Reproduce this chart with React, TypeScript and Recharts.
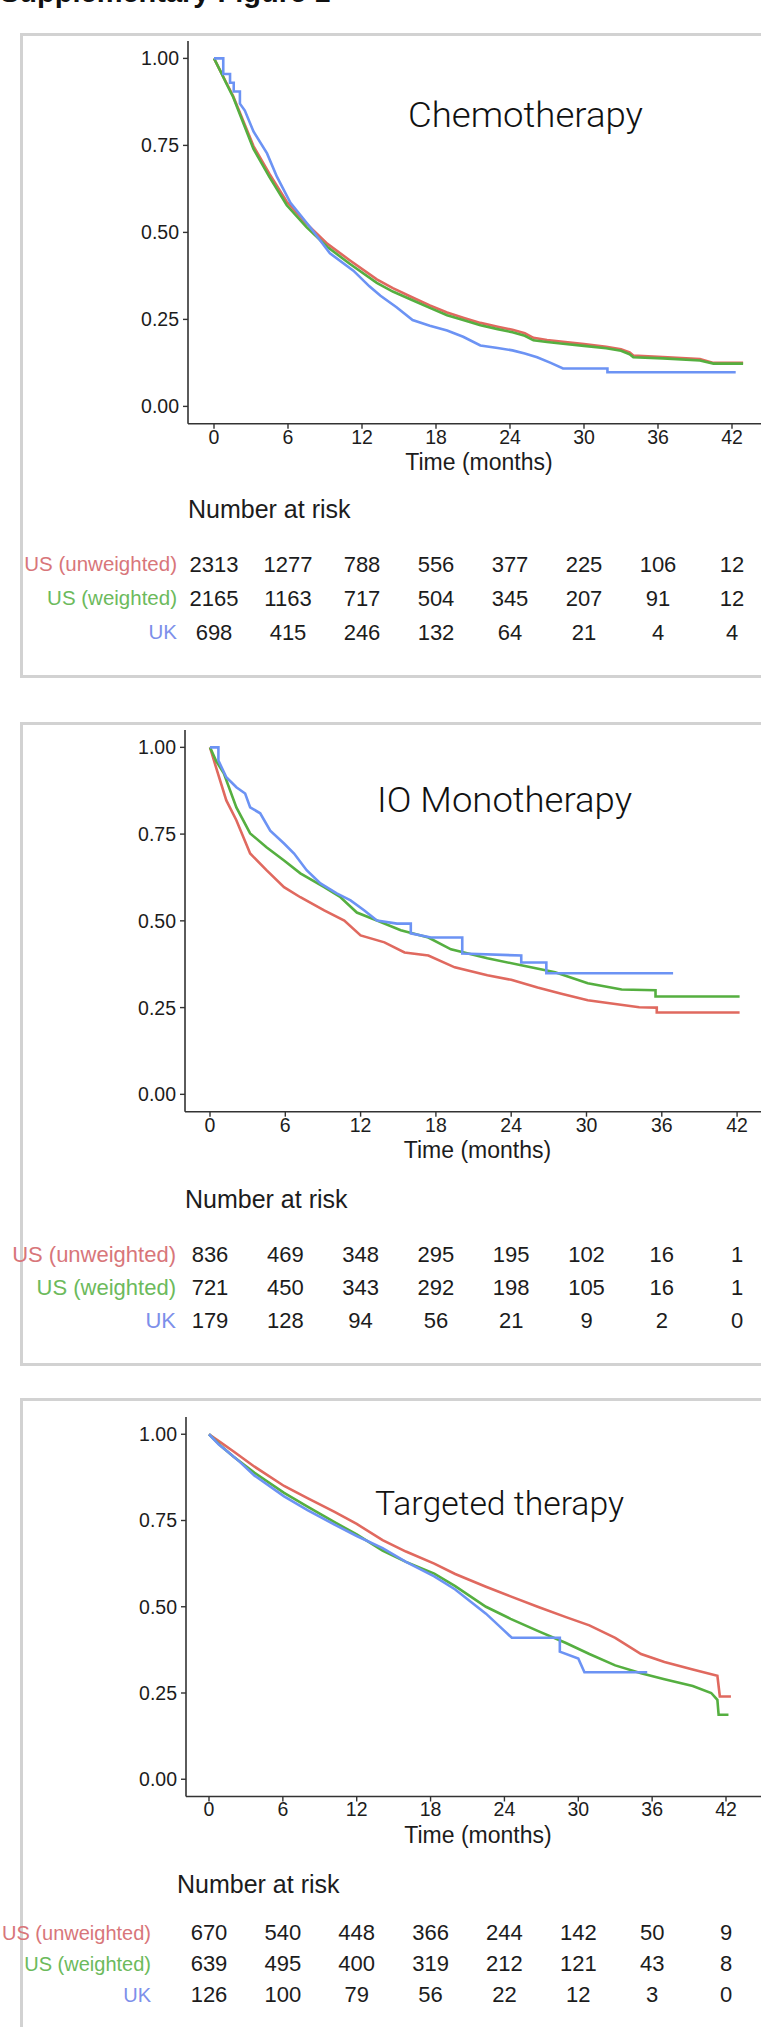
import React from "react";
import { LineChart, Line, XAxis, YAxis, ScatterChart, Scatter } from "recharts";

// Kaplan-Meier curves: [months, survival]
const chemoUsUnweighted = [
  [0, 1], [0.5, 0.965], [1, 0.93], [1.55, 0.892], [2.2, 0.835], [3.2, 0.748], [4.5, 0.668], [5.9, 0.588],
  [7.5, 0.525], [9.2, 0.467], [11, 0.42], [13.2, 0.365], [14.5, 0.34], [16.1, 0.313], [17.5, 0.29],
  [18.9, 0.27], [20.2, 0.255], [21.6, 0.24], [23, 0.229], [24.2, 0.22], [25.2, 0.21], [25.9, 0.197],
  [27, 0.191], [28.3, 0.186], [30, 0.179], [31.8, 0.171], [33, 0.164], [33.7, 0.155], [34, 0.146],
  [36.4, 0.142], [39.4, 0.136], [40.5, 0.125], [42.9, 0.125],
];
const chemoUsWeighted = [
  [0, 1], [0.5, 0.965], [1, 0.928], [1.55, 0.889], [2.2, 0.83], [3.2, 0.74], [4.5, 0.659], [5.9, 0.578],
  [7.5, 0.515], [9.2, 0.458], [11, 0.41], [13.2, 0.355], [14.5, 0.33], [16.1, 0.305], [17.5, 0.283],
  [18.9, 0.262], [20.2, 0.248], [21.6, 0.233], [23, 0.222], [24.2, 0.213], [25.2, 0.203], [25.9, 0.19],
  [27, 0.185], [28.3, 0.18], [30, 0.174], [31.8, 0.167], [33, 0.16], [33.7, 0.15], [34, 0.141],
  [36.4, 0.138], [39.4, 0.132], [40.5, 0.123], [42.9, 0.123],
];
const chemoUk = [
  [0, 1], [0.75, 1], [0.75, 0.955], [1.3, 0.955], [1.3, 0.93], [1.6, 0.93], [1.6, 0.905], [2.1, 0.905],
  [2.1, 0.87], [2.5, 0.85], [3.2, 0.79], [4.3, 0.727], [5.1, 0.66], [6.2, 0.585], [7.8, 0.515],
  [9.4, 0.44], [11.3, 0.39], [12.6, 0.345], [13.5, 0.318], [14.8, 0.285], [16.1, 0.248], [17.5, 0.232],
  [18.9, 0.218], [20.2, 0.2], [21.6, 0.175], [23, 0.168], [24.2, 0.161], [25.2, 0.152], [26.2, 0.141],
  [27.3, 0.125], [28.3, 0.109], [31.9, 0.109], [31.9, 0.098], [42.3, 0.098],
];

const ioUsUnweighted = [
  [0, 1], [0.5, 0.94], [1.3, 0.847], [2.1, 0.79], [3.2, 0.694], [4.5, 0.646], [5.9, 0.597], [7.2, 0.568],
  [9.1, 0.53], [10.7, 0.501], [12, 0.458], [13.9, 0.438], [15.5, 0.409], [17.4, 0.4], [19.5, 0.366],
  [22.1, 0.343], [24, 0.33], [26.1, 0.308], [28, 0.29], [30.1, 0.271], [32, 0.262], [34.2, 0.251],
  [35.6, 0.25], [35.6, 0.236], [42.2, 0.236],
];
const ioUsWeighted = [
  [0, 1], [0.5, 0.96], [1.1, 0.925], [2.1, 0.827], [3.2, 0.752], [4.5, 0.712], [5.9, 0.674], [7.2, 0.637],
  [9.1, 0.597], [10.4, 0.568], [11.7, 0.524], [13.3, 0.501], [15.2, 0.473], [17.4, 0.452], [19.2, 0.418],
  [22.1, 0.392], [24.8, 0.372], [27.5, 0.352], [30.1, 0.32], [32.8, 0.302], [35.5, 0.3], [35.5, 0.282],
  [42.2, 0.282],
];
const ioUk = [
  [0, 1], [0.67, 1], [0.67, 0.962], [1.3, 0.914], [2.1, 0.885], [2.8, 0.867], [3.2, 0.827], [4, 0.81],
  [4.8, 0.76], [5.9, 0.723], [6.7, 0.694], [7.7, 0.646], [8.8, 0.608], [10.1, 0.579], [11.2, 0.559],
  [12.3, 0.53], [13.3, 0.501], [14.9, 0.492], [16, 0.492], [16, 0.464], [17.6, 0.452], [20.1, 0.452],
  [20.1, 0.406], [24.8, 0.4], [24.8, 0.38], [26.8, 0.38], [26.8, 0.349], [36.9, 0.349],
];

const targetedUsUnweighted = [
  [0, 1], [1, 0.975], [2, 0.95], [3.7, 0.906], [6.1, 0.85], [8, 0.815], [10.2, 0.775], [12, 0.74],
  [14.1, 0.693], [16, 0.66], [18.3, 0.625], [20, 0.595], [22.5, 0.558], [24.5, 0.53], [26.7, 0.5],
  [29, 0.47], [30.9, 0.446], [33, 0.41], [35.1, 0.363], [37, 0.34], [39.3, 0.318], [41.3, 0.3],
  [41.5, 0.24], [42.4, 0.24],
];
const targetedUsWeighted = [
  [0, 1], [1, 0.965], [2, 0.935], [3.7, 0.888], [6.1, 0.83], [8, 0.79], [10.2, 0.745], [12, 0.71],
  [14.1, 0.663], [16, 0.63], [18.3, 0.596], [20, 0.56], [22.5, 0.5], [24.5, 0.465], [26.7, 0.43],
  [29, 0.395], [30.9, 0.363], [33, 0.33], [35.1, 0.307], [37, 0.29], [39.3, 0.27], [40.8, 0.25],
  [41.3, 0.23], [41.4, 0.187], [42.2, 0.187],
];
const targetedUk = [
  [0, 1], [0.8, 0.97], [1.5, 0.95], [2.5, 0.92], [3.7, 0.88], [6.1, 0.82], [8, 0.78], [10.2, 0.738],
  [12, 0.705], [14.1, 0.67], [16, 0.63], [18.3, 0.588], [20, 0.55], [22.5, 0.48], [24, 0.43],
  [24.6, 0.41], [28.5, 0.41], [28.5, 0.37], [30, 0.35], [30.5, 0.31], [35.6, 0.31],
];

// number at risk tables
const riskTimes = [0, 6, 12, 18, 24, 30, 36, 42];
const groupNames = ["US (unweighted)", "US (weighted)", "UK"];
const chemoRisk = [
  [2313, 1277, 788, 556, 377, 225, 106, 12],
  [2165, 1163, 717, 504, 345, 207, 91, 12],
  [698, 415, 246, 132, 64, 21, 4, 4],
];
const ioRisk = [
  [836, 469, 348, 295, 195, 102, 16, 1],
  [721, 450, 343, 292, 198, 105, 16, 1],
  [179, 128, 94, 56, 21, 9, 2, 0],
];
const targetedRisk = [
  [670, 540, 448, 366, 244, 142, 50, 9],
  [639, 495, 400, 319, 212, 121, 43, 8],
  [126, 100, 79, 56, 22, 12, 3, 0],
];

const yTicks = [0, 0.25, 0.5, 0.75, 1];
const lineColors = ["#E0695F", "#55AF40", "#6C93F4"];
const labelColors = ["#D8767A", "#6CBA5C", "#7D8FEA"];

const PAGE_W = 770;
const INK = "#1c1c1c";

// page geometry of each panel (pixels)
const layouts = [
  {
    boxTop: 33, boxBottom: 678, y1: 58, y0: 406, axisX: 188, x0: 214, ppm: 74 / 6,
    titleX: 408, titleBase: 127, titleW: 235, titleSize: 35,
    timeBase: 470, narBase: 518, narX: 188, rows: [564, 598, 632], labelRight: 177, labelSize: 20.5,
  },
  {
    boxTop: 722, boxBottom: 1366, y1: 747, y0: 1094, axisX: 185, x0: 210, ppm: 75.3 / 6,
    titleX: 377, titleBase: 812, titleW: 255, titleSize: 35,
    timeBase: 1158, narBase: 1208, narX: 185, rows: [1254, 1288, 1320], labelRight: 176, labelSize: 22,
  },
  {
    boxTop: 1398, boxBottom: 2100, y1: 1434, y0: 1779, axisX: 186, x0: 209, ppm: 517 / 42,
    titleX: 375, titleBase: 1515, titleW: 249, titleSize: 34,
    timeBase: 1843, narBase: 1893, narX: 177, rows: [1932, 1963, 1994], labelRight: 151, labelSize: 20,
  },
];

const panels = [
  { title: "Chemotherapy", curves: [chemoUsUnweighted, chemoUsWeighted, chemoUk], risk: chemoRisk },
  { title: "IO Monotherapy", curves: [ioUsUnweighted, ioUsWeighted, ioUk], risk: ioRisk },
  { title: "Targeted therapy", curves: [targetedUsUnweighted, targetedUsWeighted, targetedUk], risk: targetedRisk },
];

const toPoints = (arr: number[][]) => arr.map(([t, s]) => ({ t, s }));

function Panel({ idx }: { idx: number }) {
  const L = layouts[idx];
  const { curves, risk } = panels[idx];
  const span = L.y0 - L.y1;
  const plotTop = L.y1 - 0.05 * span;
  const plotH = 1.1 * span;
  const xMin = (L.axisX - L.x0) / L.ppm;
  const xMax = xMin + (PAGE_W - L.axisX) / L.ppm;
  const yAxisW = 70;
  const padTop = 12;

  const rowGap = (L.rows[2] - L.rows[0]) / 2;
  const tableTop = L.rows[0] - rowGap / 2;
  const labelAxisW = 184;
  const cells = risk.flatMap((row, r) => row.map((n, j) => ({ t: riskTimes[j], r, n })));

  const renderCount = (p: any) => (
    <text x={p.cx} y={p.cy} dy="0.36em" textAnchor="middle" fontSize={22} fill={INK}>
      {p.payload.n}
    </text>
  );
  const renderLabel = (p: any) => (
    <text x={p.x} y={p.y} dy="0.36em" textAnchor="end" fontSize={L.labelSize} fill={labelColors[p.payload.value]}>
      {groupNames[p.payload.value]}
    </text>
  );

  return (
    <>
      <div
        style={{
          position: "absolute", left: 20, top: L.boxTop, width: 800, height: L.boxBottom - L.boxTop,
          border: "3px solid #d2d2d2", boxSizing: "border-box",
        }}
      />
      <div style={{ position: "absolute", left: 0, top: plotTop - padTop }}>
        <LineChart
          width={PAGE_W}
          height={padTop + plotH + 40}
          margin={{ top: padTop, right: 0, bottom: 0, left: L.axisX - yAxisW }}
        >
          <XAxis
            type="number" dataKey="t" domain={[xMin, xMax]} ticks={riskTimes} allowDataOverflow
            height={40} tickSize={5} tickMargin={1} interval={0}
            tick={{ fill: INK, fontSize: 19.5 }}
            axisLine={{ stroke: "#333", strokeWidth: 1.6 }} tickLine={{ stroke: "#333", strokeWidth: 1.4 }}
          />
          <YAxis
            type="number" domain={[-0.05, 1.05]} ticks={yTicks} allowDataOverflow width={yAxisW}
            tickSize={5} tickMargin={4} interval={0} tickFormatter={(v: number) => v.toFixed(2)}
            tick={{ fill: INK, fontSize: 19.5 }}
            axisLine={{ stroke: "#333", strokeWidth: 1.6 }} tickLine={{ stroke: "#333", strokeWidth: 1.4 }}
          />
          {curves.map((c, i) => (
            <Line
              key={i} data={toPoints(c)} dataKey="s" type="linear" stroke={lineColors[i]}
              strokeWidth={2.6} dot={false} activeDot={false} isAnimationActive={false}
            />
          ))}
        </LineChart>
      </div>
      <div style={{ position: "absolute", left: 0, top: tableTop }}>
        <ScatterChart
          width={PAGE_W}
          height={rowGap * 3}
          margin={{ top: 0, right: 0, bottom: 0, left: L.axisX - labelAxisW }}
        >
          <XAxis type="number" dataKey="t" domain={[xMin, xMax]} hide allowDataOverflow />
          <YAxis
            type="number" dataKey="r" domain={[-0.5, 2.5]} reversed ticks={[0, 1, 2]} interval={0}
            width={labelAxisW} tickSize={0} tickMargin={L.axisX - L.labelRight}
            axisLine={false} tickLine={false} tick={renderLabel}
          />
          <Scatter data={cells} shape={renderCount} isAnimationActive={false} />
        </ScatterChart>
      </div>
    </>
  );
}

export default function App() {
  return (
    <div
      style={{
        position: "absolute", left: 0, top: 0, width: 761, height: 2027, overflow: "hidden",
        background: "#fff", fontFamily: '"Liberation Sans", Arial, sans-serif',
      }}
    >
      {layouts.map((_, i) => (
        <Panel key={i} idx={i} />
      ))}
      <svg
        width={761}
        height={2027}
        style={{ position: "absolute", left: 0, top: 0, pointerEvents: "none" }}
        fontFamily='"Liberation Sans", Arial, sans-serif'
      >
        <text x={0} y={2} fontSize={29} fontWeight={700} fill="#111">
          Supplementary Figure 1
        </text>
        {layouts.map((L, i) => (
          <g key={i}>
            <text
              x={L.titleX} y={L.titleBase} fontSize={L.titleSize} fontWeight={300}
              fontFamily='Roboto, "Liberation Sans", sans-serif' fill="#111"
              textLength={L.titleW} lengthAdjust="spacingAndGlyphs"
            >
              {panels[i].title}
            </text>
            <text x={(L.axisX + PAGE_W) / 2} y={L.timeBase} fontSize={23} textAnchor="middle" fill={INK}>
              Time (months)
            </text>
            <text x={L.narX} y={L.narBase} fontSize={25} fill={INK}>
              Number at risk
            </text>
          </g>
        ))}
      </svg>
    </div>
  );
}
